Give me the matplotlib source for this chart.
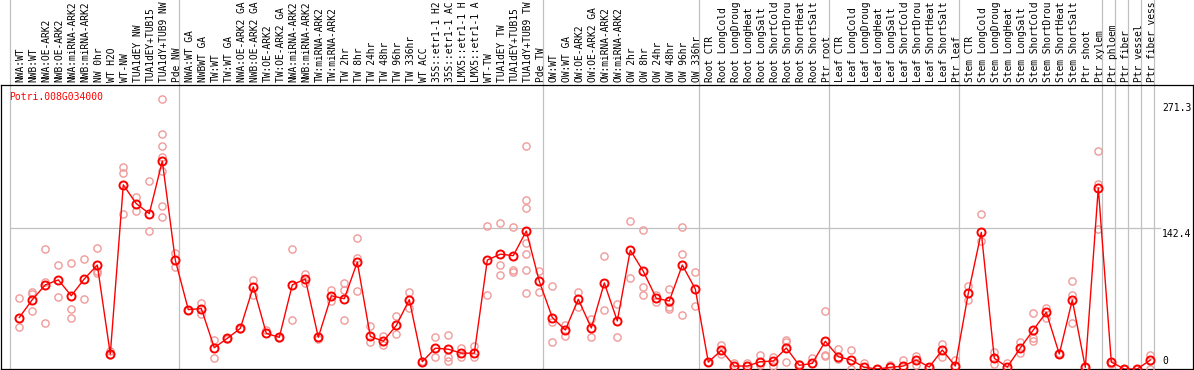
import matplotlib
matplotlib.use("Agg")
import matplotlib.pyplot as plt
import matplotlib.transforms as mtransforms

title = "Potri.008G034000"

# labels as shown in the chart (truncated to 14 characters)
categories = [
    "NWA:WT", "NWB:WT", "NWA:OE-ARK2", "NWB:OE-ARK2", "NWA:miRNA-ARK2", "NWB:miRNA-ARK2",
    "NW 0hr", "WT H2O", "WT-NW", "TUA1dEY NW", "TUA1dEY+TUB15", "TUA1dY+TUB9 NW", "Pde NW",
    "NWA:WT GA", "NWBWT GA", "TW:WT", "TW:WT GA", "NWA:OE-ARK2 GA", "NWB:OE-ARK2 GA",
    "TW:OE-ARK2", "TW:OE-ARK2 GA", "NWA:miRNA-ARK2", "NWB:miRNA-ARK2", "TW:miRNA-ARK2",
    "TW:miRNA-ARK2", "TW 2hr", "TW 8hr", "TW 24hr", "TW 48hr", "TW 96hr", "TW 336hr",
    "WT ACC", "35S::etr1-1 H2", "35S::etr1-1 AC", "LMX5::etr1-1 H", "LMX5::etr1-1 A",
    "WT-TW", "TUA1dEY TW", "TUA1dEY+TUB15", "TUA1dY+TUB9 TW", "Pde TW",
    "OW:WT", "OW:WT GA", "OW:OE-ARK2", "OW:OE-ARK2 GA", "OW:miRNA-ARK2", "OW:miRNA-ARK2",
    "OW 2hr", "OW 8hr", "OW 24hr", "OW 48hr", "OW 96hr", "OW 336hr",
    "Root CTR", "Root LongCold", "Root LongDroug", "Root LongHeat", "Root LongSalt",
    "Root ShortCold", "Root ShortDrou", "Root ShortHeat", "Root ShortSalt", "Ptr root",
    "Leaf CTR", "Leaf LongCold", "Leaf LongDroug", "Leaf LongHeat", "Leaf LongSalt",
    "Leaf ShortCold", "Leaf ShortDrou", "Leaf ShortHeat", "Leaf ShortSalt", "Ptr leaf",
    "Stem CTR", "Stem LongCold", "Stem LongDroug", "Stem LongHeat", "Stem LongSalt",
    "Stem ShortCold", "Stem ShortDrou", "Stem ShortHeat", "Stem ShortSalt", "Ptr shoot",
    "Ptr xylem", "Ptr phloem", "Ptr fiber", "Ptr vessel", "Ptr fiber vess",
]

means = [
    52, 70, 85, 90, 74, 91, 105, 15, 186, 167, 157, 210, 110,
    60, 61, 21.5, 31, 41, 83, 36, 32, 85, 91, 32, 74, 71, 108, 33, 28, 44, 70,
    7.4, 21, 20, 16, 16, 110, 116, 114.5, 139.4, 88.6,
    52, 39.4, 70.4, 41.4, 86.9, 48.5, 120, 98.7, 71.4, 68.7, 105, 80.8,
    7, 18.8, 3, 3, 7.4, 8, 21.2, 3.7, 5.7, 28,
    12.4, 9.1, 1.7, 0, 1.7, 3, 9.1, 2, 19.2, 3,
    76.5, 138, 10.8, 2, 21.2, 39.4, 57.3, 15.2, 69.7, 1.7, 183,
    7, 0, 0, 9.1,
]

replicates = [
    [72, 42], [78, 76, 59], [121, 88, 46], [105, 73], [107, 61, 52], [111, 71],
    [122, 99, 97], [18.5, 14], [204, 198, 157], [174, 160], [190, 139],
    [273, 237, 225, 214, 200, 165, 154], [117, 103],
    [60], [67, 56], [29, 11], [30], [40], [90, 75], [39], [31], [121, 49], [96, 87],
    [30], [80, 69], [87, 80, 49], [132, 112, 79], [43, 27], [33, 24], [53.5, 35],
    [78, 62], [8], [32, 12], [34, 12, 8.4], [21.5, 12], [23, 12], [144, 75],
    [147, 105, 95], [143, 100, 98], [225, 171, 163, 127, 116, 100, 76.5], [99, 78],
    [83.5, 47, 27], [44, 33], [77.5, 63], [50.5, 32], [114, 60], [66, 32],
    [149.5, 92], [140, 83, 75], [75, 68], [81, 63, 61], [143, 116, 54.5], [98, 64],
    [7], [24, 15], [5.7], [5.7], [14, 4], [12.4, 3], [29, 27, 7], [4.7], [11],
    [59, 14, 13],
    [20, 10], [19, 0], [5.7], [0], [4], [9], [13, 4], [2.5], [25, 12], [9],
    [84, 70], [157, 129], [17, 4.7], [5.7], [27, 16.5], [57, 31, 28.6], [62, 52],
    [16.5], [89, 75, 46], [2], [220, 187, 141],
    [4.7], [0], [0], [14, 0],
]

# group boundaries (index of first category in each new group)
group_starts = [0, 13, 41, 53, 63, 73, 84, 85, 86, 87, 88]
y_ticks = [0, 142.4, 271.3]

W, H = 1194, 370
fig = plt.figure(figsize=(W / 100, H / 100), dpi=100)
ax = fig.add_axes([1 / W, 1 / H, 1192 / W, 284 / H])

mono = "DejaVu Sans Mono"
red = "#ff0000"
pink = "#f09a9a"
grey = "#c0c0c0"

n = len(categories)
xs = list(range(n))

# replicates
rx, ry = [], []
for i, reps in enumerate(replicates):
    for v in reps:
        rx.append(i)
        ry.append(v)
ax.plot(rx, ry, linestyle="none", marker="o", markersize=5.2, markerfacecolor="none",
        markeredgecolor=pink, markeredgewidth=1.0, zorder=3)

# mean line
ax.plot(xs, means, color=red, linewidth=1.0, zorder=4)
ax.plot(xs, means, linestyle="none", marker="o", markersize=5.8, markerfacecolor="none",
        markeredgecolor=red, markeredgewidth=1.4, zorder=5)

ax.set_xlim((1 - 19.3) / 13, (1193 - 19.3) / 13)
ax.set_ylim(0, 284 / 0.99)
ax.set_xticks([])
ax.set_yticks([])
for s in ax.spines.values():
    s.set_linewidth(0.9)
    s.set_color("black")

# separators
off = -9.3 / 13
for g in group_starts:
    ax.axvline(g + off, ymin=0, ymax=369 / 284, color=grey, linewidth=0.9,
               clip_on=False, zorder=1)

# horizontal gridline at 142.4
ax.plot([off, (1160 - 19.3) / 13], [y_ticks[1], y_ticks[1]], color=grey,
        linewidth=0.9, zorder=1)

# category labels
lab_tr = mtransforms.blended_transform_factory(ax.transData, ax.transAxes)
for i, c in enumerate(categories):
    ax.text(i + 0.12, 287 / 284, c, rotation=90, ha="center", va="bottom",
            family=mono, fontsize=6.9, transform=lab_tr, clip_on=False)

# title
ax.text(8 / 1192, 1 - 12 / 284, title, color=red, family=mono, fontsize=7,
        ha="left", va="center", transform=ax.transAxes)

# y tick labels on the right
xtr = mtransforms.blended_transform_factory(ax.transAxes, ax.transData)
xl = (1162 - 1) / 1192
ax.text(xl, y_ticks[2], "271.3", family=mono, fontsize=7, ha="left", va="top",
        transform=xtr + mtransforms.ScaledTranslation(0, -3 / 100, fig.dpi_scale_trans))
ax.text(xl, y_ticks[1], "142.4", family=mono, fontsize=7, ha="left", va="top",
        transform=xtr + mtransforms.ScaledTranslation(0, -0.5 / 100, fig.dpi_scale_trans))
ax.text(xl, y_ticks[0], "0", family=mono, fontsize=7, ha="left", va="bottom",
        transform=xtr + mtransforms.ScaledTranslation(0, 3 / 100, fig.dpi_scale_trans))

fig.savefig("out.png", dpi=100)
